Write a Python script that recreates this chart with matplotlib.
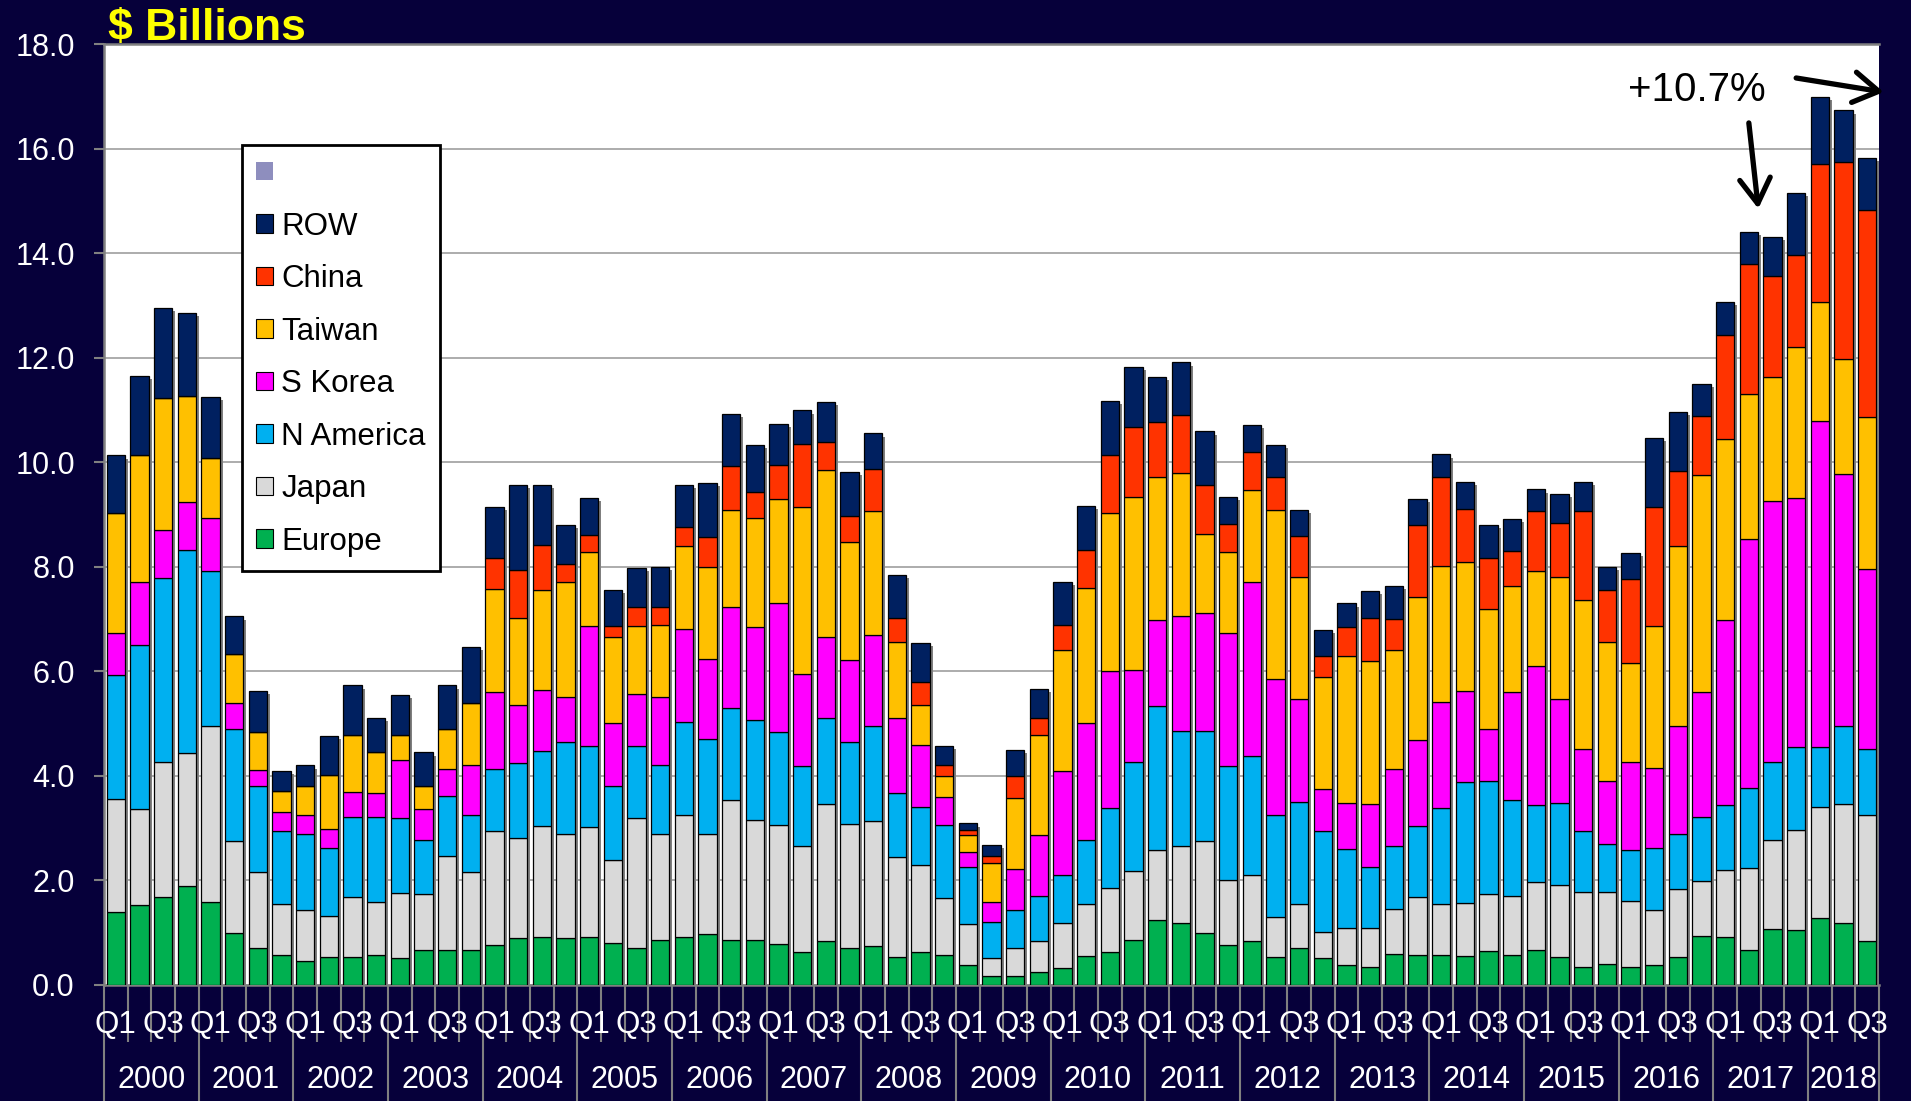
import numpy as np
import matplotlib
matplotlib.use('Agg')
import matplotlib.pyplot as plt
from matplotlib.patches import Patch

# quarterly sales, 2000 Q1 .. 2018 Q3 ($ billions)
years = list(range(2000, 2019))
n_quarters = 75

europe = [1.39, 1.53, 1.68, 1.89, 1.58, 0.99, 0.71, 0.58, 0.46, 0.53, 0.53, 0.58,
          0.51, 0.67, 0.67, 0.67, 0.77, 0.90, 0.92, 0.90, 0.92, 0.81, 0.71, 0.86,
          0.92, 0.97, 0.86, 0.86, 0.79, 0.64, 0.84, 0.71, 0.74, 0.53, 0.64, 0.58,
          0.38, 0.18, 0.18, 0.25, 0.33, 0.55, 0.63, 0.86, 1.24, 1.19, 1.00, 0.76,
          0.84, 0.53, 0.71, 0.51, 0.38, 0.35, 0.60, 0.58, 0.58, 0.55, 0.65, 0.58,
          0.67, 0.53, 0.35, 0.40, 0.35, 0.38, 0.53, 0.93, 0.92, 0.67, 1.07, 1.05,
          1.28, 1.19, 0.84]
japan = [2.16, 1.83, 2.59, 2.54, 3.37, 1.76, 1.45, 0.97, 0.97, 0.79, 1.15, 1.01,
         1.25, 1.07, 1.80, 1.49, 2.18, 1.92, 2.13, 1.99, 2.11, 1.59, 2.48, 2.02,
         2.33, 1.91, 2.67, 2.29, 2.27, 2.02, 2.62, 2.37, 2.39, 1.91, 1.65, 1.08,
         0.79, 0.34, 0.53, 0.59, 0.86, 1.00, 1.22, 1.32, 1.35, 1.47, 1.76, 1.25,
         1.27, 0.77, 0.84, 0.51, 0.71, 0.74, 0.85, 1.10, 0.97, 1.02, 1.10, 1.12,
         1.30, 1.39, 1.43, 1.38, 1.26, 1.05, 1.30, 1.05, 1.28, 1.56, 1.70, 1.91,
         2.13, 2.28, 2.41]
n_america = [2.38, 3.15, 3.52, 3.89, 2.96, 2.15, 1.65, 1.40, 1.46, 1.30, 1.53, 1.62,
             1.44, 1.03, 1.14, 1.09, 1.19, 1.42, 1.42, 1.76, 1.55, 1.40, 1.39, 1.32,
             1.79, 1.83, 1.76, 1.92, 1.77, 1.52, 1.65, 1.57, 1.83, 1.24, 1.12, 1.41,
             1.09, 0.68, 0.72, 0.86, 0.92, 1.22, 1.53, 2.08, 2.75, 2.19, 2.09, 2.18,
             2.28, 1.95, 1.96, 1.93, 1.52, 1.17, 1.21, 1.37, 1.83, 2.31, 2.16, 1.83,
             1.47, 1.56, 1.17, 0.91, 0.98, 1.19, 1.05, 1.24, 1.24, 1.54, 1.50, 1.59,
             1.14, 1.48, 1.27]
s_korea = [0.81, 1.20, 0.91, 0.91, 1.03, 0.50, 0.31, 0.36, 0.36, 0.36, 0.49, 0.46,
           1.10, 0.59, 0.53, 0.96, 1.46, 1.12, 1.17, 0.86, 2.29, 1.22, 0.99, 1.30,
           1.77, 1.52, 1.94, 1.78, 2.48, 1.77, 1.55, 1.56, 1.73, 1.43, 1.19, 0.52,
           0.28, 0.39, 0.79, 1.16, 1.99, 2.24, 2.62, 1.76, 1.65, 2.20, 2.27, 2.55,
           3.32, 2.61, 1.97, 0.79, 0.87, 1.20, 1.48, 1.63, 2.04, 1.74, 0.99, 2.07,
           2.66, 2.00, 1.56, 1.22, 1.67, 1.54, 2.08, 2.38, 3.54, 4.77, 4.99, 4.77,
           6.23, 4.83, 3.44]
taiwan = [2.29, 2.43, 2.53, 2.04, 1.14, 0.94, 0.71, 0.41, 0.55, 1.03, 1.08, 0.78,
          0.48, 0.45, 0.76, 1.19, 1.98, 1.66, 1.92, 2.20, 1.42, 1.63, 1.30, 1.39,
          1.58, 1.76, 1.85, 2.08, 1.99, 3.20, 3.19, 2.27, 2.38, 1.45, 0.76, 0.40,
          0.32, 0.75, 1.35, 1.93, 2.31, 2.59, 3.03, 3.31, 2.73, 2.74, 1.50, 1.55,
          1.76, 3.22, 2.33, 2.16, 2.82, 2.73, 2.26, 2.75, 2.60, 2.47, 2.29, 2.04,
          1.81, 2.32, 2.85, 2.65, 1.90, 2.71, 3.43, 4.15, 3.46, 2.76, 2.37, 2.88,
          2.29, 2.19, 2.90]
china = [0, 0, 0, 0, 0, 0, 0, 0, 0, 0, 0, 0,
         0, 0, 0, 0, 0.59, 0.91, 0.85, 0.35, 0.32, 0.22, 0.37, 0.35,
         0.38, 0.58, 0.85, 0.50, 0.64, 1.20, 0.54, 0.49, 0.80, 0.46, 0.44, 0.21,
         0.10, 0.13, 0.42, 0.31, 0.47, 0.72, 1.11, 1.34, 1.05, 1.12, 0.94, 0.53,
         0.73, 0.64, 0.77, 0.40, 0.54, 0.83, 0.60, 1.37, 1.70, 1.01, 0.97, 0.67,
         1.15, 1.04, 1.70, 1.00, 1.61, 2.27, 1.44, 1.14, 2.00, 2.49, 1.94, 1.76,
         2.63, 3.78, 3.97]
row = [1.10, 1.51, 1.72, 1.59, 1.17, 0.71, 0.80, 0.38, 0.40, 0.76, 0.95, 0.66,
       0.77, 0.64, 0.83, 1.07, 0.97, 1.63, 1.15, 0.74, 0.71, 0.69, 0.73, 0.75,
       0.79, 1.03, 1.00, 0.90, 0.80, 0.64, 0.76, 0.85, 0.68, 0.82, 0.74, 0.38,
       0.13, 0.21, 0.50, 0.57, 0.83, 0.84, 1.03, 1.16, 0.86, 1.00, 1.03, 0.52,
       0.52, 0.61, 0.50, 0.50, 0.46, 0.51, 0.64, 0.49, 0.43, 0.52, 0.64, 0.60,
       0.42, 0.55, 0.56, 0.43, 0.49, 1.32, 1.13, 0.61, 0.63, 0.61, 0.74, 1.19,
       1.28, 0.98, 0.99]

series = [
    ('Europe', europe, '#00B050'),
    ('Japan', japan, '#D9D9D9'),
    ('N America', n_america, '#00B0F0'),
    ('S Korea', s_korea, '#FF00FF'),
    ('Taiwan', taiwan, '#FFC000'),
    ('China', china, '#FF3300'),
    ('ROW', row, '#002060'),
]

BG = '#06003A'
W, H = 1911, 1101
plt.rcParams['font.family'] = ['Liberation Sans', 'DejaVu Sans']

fig = plt.figure(figsize=(W / 100, H / 100), dpi=100, facecolor=BG)
ax = fig.add_axes([104 / W, 1 - 985 / H, (1879 - 104) / W, (985 - 44) / H])
ax.set_facecolor('white')

x = np.arange(n_quarters)
totals = np.sum([np.array(v) for _, v, _ in series], axis=0)

# light drop shadow behind each stack
ax.bar(x + 0.12, totals - 0.06, 0.78, color='#7F7F7F', zorder=2)

bottom = np.zeros(n_quarters)
for name, vals, color in series:
    vals = np.array(vals)
    ax.bar(x, vals, 0.78, bottom=bottom, color=color, edgecolor='black',
           linewidth=0.9, zorder=3)
    bottom += vals

ax.set_xlim(-0.5, n_quarters - 0.5)
ax.set_ylim(0, 18)
ax.set_yticks(np.arange(0, 18.1, 2))
ax.set_yticklabels([f'{v:.1f}' for v in np.arange(0, 18.1, 2)])
ax.yaxis.grid(True, color='#A6A6A6', linewidth=1.3)
ax.set_axisbelow(True)
ax.tick_params(axis='y', labelcolor='white', labelsize=22, length=7,
               width=1.5, color='#808080', pad=14)
ax.set_xticks([])
for s in ['left', 'bottom', 'top']:
    ax.spines[s].set_color('#808080')
    ax.spines[s].set_linewidth(1.8)
ax.spines['right'].set_visible(False)

# x axis: quarter ticks, Q1/Q3 labels, year separators and labels
xt = ax.get_xaxis_transform()
year_edges = [4 * k - 0.5 for k in range(len(years))] + [n_quarters - 0.5]
q_edges = [i - 0.5 for i in range(1, n_quarters) if i % 4 != 0]
ax.vlines(q_edges, -0.061, 0, transform=xt, color='#808080', lw=1.5, clip_on=False)
ax.vlines(year_edges, -0.125, 0, transform=xt, color='#808080', lw=1.5, clip_on=False)
for i in range(n_quarters):
    q = i % 4
    if q in (0, 2):
        ax.text(i, -0.042, f'Q{q + 1}', transform=xt, ha='center', va='center',
                color='white', fontsize=22.5)
for k, yr in enumerate(years):
    nq = min(4, n_quarters - 4 * k)
    ax.text(4 * k + (nq - 1) / 2, -0.101, str(yr), transform=xt, ha='center',
            va='center', color='white', fontsize=22)

# legend
handles = [Patch(facecolor='#8E8EBE', edgecolor='none', label=' ')]
for name, _, color in reversed(series):
    handles.append(Patch(facecolor=color, edgecolor='black', linewidth=0.8, label=name))
leg = ax.legend(handles=handles, loc='upper left',
                bbox_to_anchor=(242 / W, 1 - 145 / H), bbox_transform=fig.transFigure,
                fontsize=22.5, frameon=True, fancybox=False, framealpha=1,
                edgecolor='black', handlelength=0.55, handleheight=0.55,
                handletextpad=0.25, labelspacing=0.72, borderpad=0.45,
                borderaxespad=0)
leg.get_frame().set_linewidth(2)
leg.set_zorder(5)

fig.text(108 / W, 1 - 40 / H, '$ Billions', color='#FFFF00', fontsize=32,
         fontweight='bold', ha='left', va='baseline', zorder=10)

# growth annotation
arrow = dict(arrowstyle='->,head_length=0.9,head_width=0.55', mutation_scale=20,
             lw=3.8, color='black', shrinkA=0, shrinkB=0)
ax.text(63.9, 16.91, '+10.7%', fontsize=29, color='black', ha='left',
        va='baseline', zorder=6)
ax.annotate('', xy=(69.4, totals[69] + 0.45), xytext=(69.0, 16.49),
            arrowprops=arrow, annotation_clip=False, zorder=6)
ax.annotate('', xy=(74.7, 17.08), xytext=(71.0, 17.35),
            arrowprops=arrow, annotation_clip=False, zorder=6)

fig.savefig('out.png', dpi=100, facecolor=BG)
